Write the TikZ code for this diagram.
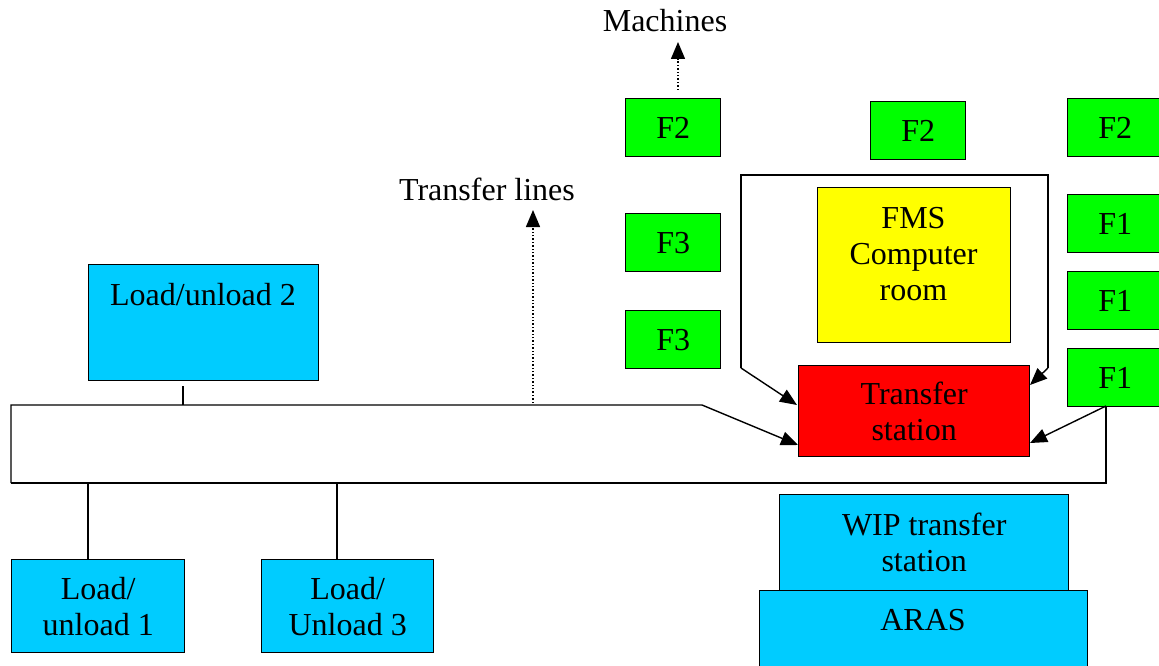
\documentclass[tikz,border=0pt]{standalone}
\usepackage{fontspec}
\setmainfont{Liberation Serif}
\usetikzlibrary{arrows.meta}
\definecolor{cyanbox}{HTML}{00CCFF}
\definecolor{greenbox}{HTML}{00FF00}
\definecolor{yellowbox}{HTML}{FFFF00}
\definecolor{redbox}{HTML}{FF0000}
\begin{document}
\begin{tikzpicture}[x=1pt,y=-1pt,line width=1.4pt,
  font=\fontsize{32}{36}\selectfont,
  box/.style={draw=black,line width=1.4pt,inner sep=0pt,align=center,anchor=north west},
  mbox/.style={box,fill=greenbox,minimum width=95pt,minimum height=58pt},
  cbox/.style={box,fill=cyanbox},
  lbl/.style={inner sep=0pt,align=center},
  tip/.style={-{Triangle[length=17pt,width=14pt]}},
  dottip/.style={dotted,line width=1.4pt,-{Triangle[length=17pt,width=14pt]}}]
\useasboundingbox (0,0) rectangle (1159,666);

% machines
\node[mbox] (f2a) at (625,98) {F2};
\node[mbox] (f2b) at (870,101) {F2};
\node[mbox] (f2c) at (1067,98) {F2};
\node[mbox] (f3a) at (625,213) {F3};
\node[mbox] (f3b) at (625,310) {F3};
\node[mbox] (f1a) at (1067,194) {F1};
\node[mbox] (f1b) at (1067,271) {F1};
\node[mbox] (f1c) at (1067,348) {F1};

% FMS computer room
\node[box,fill=yellowbox,minimum width=193pt,minimum height=155pt] (fms) at (817,187) {};
\node[lbl,anchor=north] (fmst) at (913.5,207) {FMS\\Computer\\room};

% transfer station
\node[box,fill=redbox,minimum width=231pt,minimum height=91pt] (ts) at (798,365) {Transfer\\station};

% load/unload stations
\node[cbox,minimum width=230pt,minimum height=116pt] (lu2) at (88,264) {};
\node[lbl,anchor=base] (lu2t) at (203,305) {Load/unload 2};
\node[cbox,minimum width=173pt,minimum height=93pt] (lu1) at (11,559) {Load/\\unload 1};
\node[cbox,minimum width=172pt,minimum height=93pt] (lu3) at (261,559) {Load/\\Unload 3};

% WIP and ARAS
\node[cbox,minimum width=328pt,minimum height=110pt] (aras) at (759,590) {};
\node[lbl,anchor=base] (arast) at (923,630) {ARAS};
\node[cbox,minimum width=289pt,minimum height=96pt] (wip) at (779,494) {WIP transfer\\station};

% labels
\node[lbl,anchor=base] (mach) at (665,32) {Machines};
\node[lbl,anchor=base] (tl) at (487,200) {Transfer lines};

% coordinates
\coordinate (busA) at (11,405);
\coordinate (busB) at (702,405);
\coordinate (busC) at (11,483);
\coordinate (busD) at (1106,483);
\coordinate (f1foot) at (1106,406);
\coordinate (tsW) at (798,445);
\coordinate (tsE) at (1030,443);
\coordinate (loopL) at (741,368);
\coordinate (loopLT) at (741,175);
\coordinate (loopRT) at (1048,175);
\coordinate (loopR) at (1048,368);
\coordinate (tsNW) at (797,405);
\coordinate (tsNE) at (1030,385);
\coordinate (lu2j) at (183,386);
\coordinate (lu2b) at (183,405);
\coordinate (lu1j) at (88,483);
\coordinate (lu3j) at (337,483);
\coordinate (machS) at (678,90);
\coordinate (machN) at (678,42);
\coordinate (tlS) at (533,403);
\coordinate (tlN) at (533,210);

% transfer line loop (bus)
\draw[tip] (busC) -- (busA) -- (busB) -- (tsW);
\draw (busC) -- (busD) -- (f1foot);
\draw[tip] (f1foot) -- (tsE);

% loop around the computer room
\draw[tip] (loopL) -- (tsNW);
\draw (loopL) -- (loopLT) -- (loopRT) -- (loopR);
\draw[tip] (loopR) -- (tsNE);

% connections to load/unload stations
\draw (lu2j) -- (lu2b);
\draw (lu1j) -- (lu1.north -| lu1j);
\draw (lu3j) -- (lu3.north -| lu3j);

% dotted arrows
\draw[dottip] (machS) -- (machN);
\draw[dottip] (tlS) -- (tlN);
\end{tikzpicture}
\end{document}
